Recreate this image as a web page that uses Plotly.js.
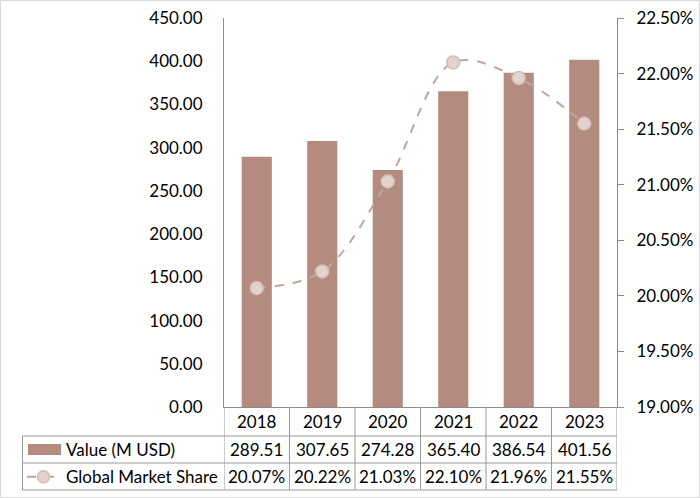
<!DOCTYPE html>
<html>
<head>
<meta charset="utf-8">
<script src="https://cdn.plot.ly/plotly-3.0.1.min.js"></script>
<style>html,body{margin:0;padding:0;background:#fff;}#chart{width:700px;height:498px;}</style>
</head>
<body>
<div id="chart"></div>
<script>
const years = ['2018', '2019', '2020', '2021', '2022', '2023'];
const values = [289.51, 307.65, 274.28, 365.40, 386.54, 401.56];
const shares = [20.07, 20.22, 21.03, 22.10, 21.96, 21.55];
const valueLabel = 'Value (M USD)';
const shareLabel = 'Global Market Share';

const barColor = '#b48c7f';
const lineColor = '#c0a79d';
const markerFill = '#e3d3cc';
const markerEdge = '#d2bcb3';
const gridColor = '#999999';
const axisColor = '#8c8c8c';
const font = 'Lato, "Open Sans", sans-serif';
const fs = 17;

// pixel -> paper helpers (plot area: x 224..617, y 18..407)
const L = 224, R = 617, T = 18, B = 407;
const px = x => (x - L) / (R - L);
const py = y => (B - y) / (B - T);

const traces = [
  {type: 'bar', x: years, y: values, name: valueLabel, marker: {color: barColor}, yaxis: 'y', hoverinfo: 'skip'},
  {type: 'scatter', mode: 'lines+markers', x: years, y: shares, name: shareLabel, yaxis: 'y2',
   line: {color: lineColor, width: 2, dash: 'dash', shape: 'spline', smoothing: 1},
   marker: {size: 13, color: markerFill, line: {color: markerEdge, width: 1.5}}, hoverinfo: 'skip'}
];

const txt = {family: font, size: fs, color: '#000'};
const annotations = [];
const shapes = [];
years.forEach((yr, i) => {
  annotations.push({x: i, xref: 'x', y: py(421.5), yref: 'paper', xanchor: 'center', yanchor: 'middle', text: yr, showarrow: false, font: txt});
  annotations.push({x: i, xref: 'x', y: py(449.5), yref: 'paper', xanchor: 'center', yanchor: 'middle', text: values[i].toFixed(2), showarrow: false, font: txt});
  annotations.push({x: i, xref: 'x', y: py(476.5), yref: 'paper', xanchor: 'center', yanchor: 'middle', text: shares[i].toFixed(2) + '%', showarrow: false, font: txt});
});
annotations.push({x: px(64), xref: 'paper', xanchor: 'left', yanchor: 'middle', y: py(449.5), yref: 'paper', text: valueLabel, showarrow: false, font: txt});
annotations.push({x: px(64), xref: 'paper', xanchor: 'left', yanchor: 'middle', y: py(476.5), yref: 'paper', text: shareLabel, showarrow: false, font: txt});

// outer border
shapes.push({type: 'rect', xref: 'paper', yref: 'paper', x0: px(0.5), x1: px(699.5), y0: py(497.5), y1: py(0.5), line: {color: '#d9d9d9', width: 1}, layer: 'below'});
// table vertical lines at category boundaries
for (let i = 0; i <= years.length; i++) {
  shapes.push({type: 'line', xref: 'x', yref: 'paper', x0: i - 0.5, x1: i - 0.5, y0: 0, y1: py(490), line: {color: gridColor, width: 1}});
}
// left border of table
shapes.push({type: 'line', xref: 'paper', yref: 'paper', x0: px(22.5), x1: px(22.5), y0: py(436), y1: py(490), line: {color: gridColor, width: 1}});
// horizontal rows
[436, 463, 490].forEach(y => {
  shapes.push({type: 'line', xref: 'paper', yref: 'paper', x0: px(22.5), x1: 1, y0: py(y), y1: py(y), line: {color: gridColor, width: 1}});
});
// legend keys
shapes.push({type: 'rect', xref: 'paper', yref: 'paper', x0: px(28), x1: px(61), y0: py(455), y1: py(444), fillcolor: barColor, line: {width: 0}});
shapes.push({type: 'line', xref: 'paper', yref: 'paper', x0: px(27), x1: px(62), y0: py(476.7), y1: py(476.7), line: {color: lineColor, width: 2, dash: 'dash'}});
shapes.push({type: 'circle', xref: 'paper', yref: 'paper', x0: px(37.5), x1: px(49.5), y0: py(482.7), y1: py(470.7), fillcolor: markerFill, line: {color: markerEdge, width: 1.5}});

const layout = {
  width: 700, height: 498,
  margin: {l: L, r: 700 - R, t: T, b: 498 - B, pad: 0},
  paper_bgcolor: '#fff', plot_bgcolor: '#fff',
  showlegend: false,
  bargap: 0.54,
  font: {family: font, size: fs, color: '#000'},
  xaxis: {type: 'category', range: [-0.5, 5.5], showticklabels: false, showgrid: false, zeroline: false,
          showline: true, linecolor: axisColor, linewidth: 1, ticks: '', fixedrange: true},
  yaxis: {range: [0, 450], dtick: 50, tickformat: '.2f', showgrid: false, zeroline: false,
          showline: true, linecolor: axisColor, linewidth: 1, ticks: '', ticklabelstandoff: 17,
          tickfont: txt},
  yaxis2: {overlaying: 'y', side: 'right', range: [19, 22.5], dtick: 0.5, tickformat: '.2f', ticksuffix: '%',
           showgrid: false, zeroline: false, showline: true, linecolor: axisColor, linewidth: 1,
           ticks: 'outside', ticklen: 6, tickcolor: axisColor, ticklabelstandoff: 9,
           tickfont: txt},
  annotations: annotations,
  shapes: shapes
};

Plotly.newPlot('chart', traces, layout, {displayModeBar: false, staticPlot: true});
</script>
</body>
</html>
